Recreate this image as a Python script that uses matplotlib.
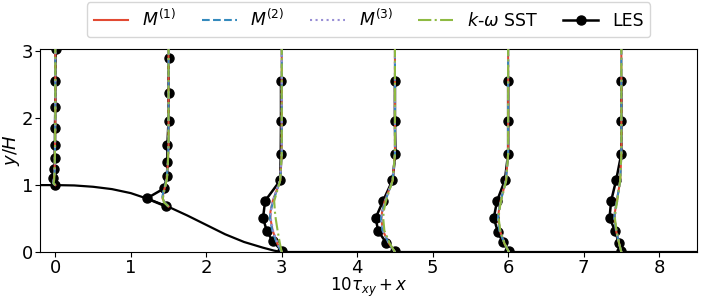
import numpy as np
import matplotlib
matplotlib.use('Agg')
import matplotlib.pyplot as plt

matplotlib.rcParams.update({'font.size': 13})

# hill geometry (bottom wall)
hill_x = [-0.2, 0.0, 0.25, 0.5, 0.75, 1.0, 1.25, 1.5, 1.75, 2.0, 2.25, 2.5, 2.75, 2.9, 3.0, 8.5]
hill_y = [1.0, 1.0, 0.995, 0.975, 0.94, 0.88, 0.785, 0.675, 0.545, 0.405, 0.265, 0.15, 0.065, 0.02, 0.0, 0.0]

# profile stations
stations = [0.0, 1.5, 3.0, 4.5, 6.0, 7.5]

# LES profiles: y and 10*tau_xy
les_y = [
    [1.0, 1.1, 1.24, 1.40, 1.60, 1.855, 2.17, 2.56, 3.04],
    [0.683, 0.80, 0.95, 1.13, 1.34, 1.60, 1.965, 2.38, 2.90],
    [0.02, 0.16, 0.32, 0.51, 0.765, 1.07, 1.47, 1.96, 2.56],
    [0.02, 0.13, 0.32, 0.51, 0.765, 1.07, 1.47, 1.96, 2.56],
    [0.02, 0.146, 0.30, 0.51, 0.765, 1.07, 1.47, 1.96, 2.56],
    [0.02, 0.13, 0.31, 0.51, 0.765, 1.07, 1.47, 1.96, 2.56],
]
les_tau = [
    [0.0, -0.03, -0.02, -0.01, -0.005, -0.005, 0.0, 0.0, 0.005],
    [-0.037, -0.29, -0.06, -0.02, -0.015, -0.015, 0.0, 0.0, 0.0],
    [0.0, -0.12, -0.20, -0.248, -0.22, -0.02, -0.013, -0.01, -0.01],
    [0.007, -0.113, -0.224, -0.255, -0.157, -0.033, 0.007, 0.0, 0.0],
    [0.01, -0.07, -0.137, -0.19, -0.147, -0.044, 0.0, 0.0, 0.0],
    [0.0, -0.033, -0.08, -0.157, -0.135, -0.07, 0.0, 0.0, 0.0],
]

# model profiles (same y grid per station)
mod_y = [
    [1.0, 1.03, 1.08, 1.2, 1.5, 2.0, 3.036],
    [0.68, 0.74, 0.80, 0.90, 1.0, 1.1, 1.3, 1.6, 2.2, 3.036],
    [0.0, 0.13, 0.32, 0.5, 0.6, 0.76, 1.07, 1.47, 2.0, 3.036],
    [0.0, 0.13, 0.32, 0.5, 0.6, 0.76, 1.07, 1.47, 2.0, 3.036],
    [0.0, 0.13, 0.32, 0.5, 0.6, 0.76, 1.07, 1.47, 2.0, 3.036],
    [0.0, 0.13, 0.32, 0.5, 0.6, 0.76, 1.07, 1.47, 2.0, 3.036],
]
m1_tau = [
    [0.0, -0.03, -0.02, -0.01, -0.005, 0.0, 0.0],
    [0.0, -0.05, -0.08, -0.065, -0.04, -0.025, -0.01, 0.0, 0.0, 0.0],
    [0.0, -0.06, -0.12, -0.15, -0.15, -0.12, -0.02, 0.0, 0.0, 0.0],
    [0.0, -0.08, -0.16, -0.18, -0.17, -0.135, -0.03, 0.0, 0.0, 0.0],
    [0.01, -0.05, -0.11, -0.133, -0.125, -0.10, -0.03, 0.0, 0.0, 0.0],
    [0.0, -0.03, -0.07, -0.09, -0.085, -0.06, -0.015, 0.0, 0.0, 0.0],
]
m2_tau = [
    [0.0, -0.03, -0.02, -0.01, -0.005, 0.0, 0.0],
    [0.0, -0.05, -0.085, -0.07, -0.045, -0.025, -0.01, 0.0, 0.0, 0.0],
    [0.0, -0.065, -0.125, -0.155, -0.15, -0.115, -0.02, 0.0, 0.0, 0.0],
    [0.0, -0.08, -0.165, -0.185, -0.17, -0.13, -0.03, 0.0, 0.0, 0.0],
    [0.01, -0.05, -0.115, -0.135, -0.125, -0.10, -0.03, 0.0, 0.0, 0.0],
    [0.0, -0.03, -0.07, -0.095, -0.085, -0.06, -0.015, 0.0, 0.0, 0.0],
]
m3_tau = [
    [0.0, -0.035, -0.02, -0.01, -0.005, 0.0, 0.0],
    [0.0, -0.055, -0.08, -0.06, -0.04, -0.02, -0.01, 0.0, 0.0, 0.0],
    [0.0, -0.055, -0.115, -0.145, -0.145, -0.12, -0.025, 0.0, 0.0, 0.0],
    [0.0, -0.075, -0.155, -0.175, -0.165, -0.13, -0.03, 0.0, 0.0, 0.0],
    [0.01, -0.045, -0.105, -0.13, -0.12, -0.095, -0.03, 0.0, 0.0, 0.0],
    [0.0, -0.03, -0.065, -0.085, -0.08, -0.055, -0.015, 0.0, 0.0, 0.0],
]
sst_tau = [
    [0.0, -0.025, -0.015, -0.01, -0.005, 0.0, 0.0],
    [0.0, -0.06, -0.075, -0.06, -0.04, -0.02, -0.01, 0.0, 0.0, 0.0],
    [0.0, -0.025, -0.055, -0.08, -0.09, -0.1, -0.02, 0.0, 0.0, 0.0],
    [0.0, -0.07, -0.14, -0.155, -0.15, -0.12, -0.03, 0.0, 0.0, 0.0],
    [0.01, -0.05, -0.105, -0.125, -0.12, -0.095, -0.025, 0.0, 0.0, 0.0],
    [0.0, -0.03, -0.065, -0.085, -0.08, -0.055, -0.015, 0.0, 0.0, 0.0],
]

fig = plt.figure(figsize=(7.06, 3.0), dpi=100)
ax = fig.add_axes([0.057, 0.16, 0.930, 0.677])

ax.plot(hill_x, hill_y, color='k', lw=1.6, zorder=2)

for i, x0 in enumerate(stations):
    ax.plot(x0 + np.array(les_tau[i]), les_y[i], 'o-', color='k', lw=1.8,
            ms=6.5, zorder=3, label='LES' if i == 0 else None)
    yy = mod_y[i]
    ax.plot(x0 + np.array(m1_tau[i]), yy, '-', color='#E24A33', lw=1.5,
            zorder=4, label=r'$M^{(1)}$' if i == 0 else None)
    ax.plot(x0 + np.array(m2_tau[i]), yy, '--', color='#348ABD', lw=1.5,
            zorder=5, label=r'$M^{(2)}$' if i == 0 else None)
    ax.plot(x0 + np.array(m3_tau[i]), yy, ':', color='#988ED5', lw=1.5,
            zorder=6, label=r'$M^{(3)}$' if i == 0 else None)
    ax.plot(x0 + np.array(sst_tau[i]), yy, '-.', color='#8EBA42', lw=1.5,
            zorder=7, label=r'$k$-$\omega$ SST' if i == 0 else None)

ax.set_xlim(-0.2, 8.5)
ax.set_ylim(0, 3.036)
ax.set_xticks(range(0, 9))
ax.set_yticks([0, 1, 2, 3])
ax.tick_params(pad=1.5)
ax.set_xlabel(r'$10\tau_{xy} + x$', labelpad=-0.5, fontsize=12)
ax.set_ylabel(r'$y/H$', labelpad=0)

handles, labels = ax.get_legend_handles_labels()
order = [1, 2, 3, 4, 0]
ax.legend([handles[k] for k in order], [labels[k] for k in order],
          loc='lower center', bbox_to_anchor=(0.5, 1.015), ncol=5,
          columnspacing=1.45, handlelength=2.0, fontsize=12.5)

fig.savefig('out.png', dpi=100)
